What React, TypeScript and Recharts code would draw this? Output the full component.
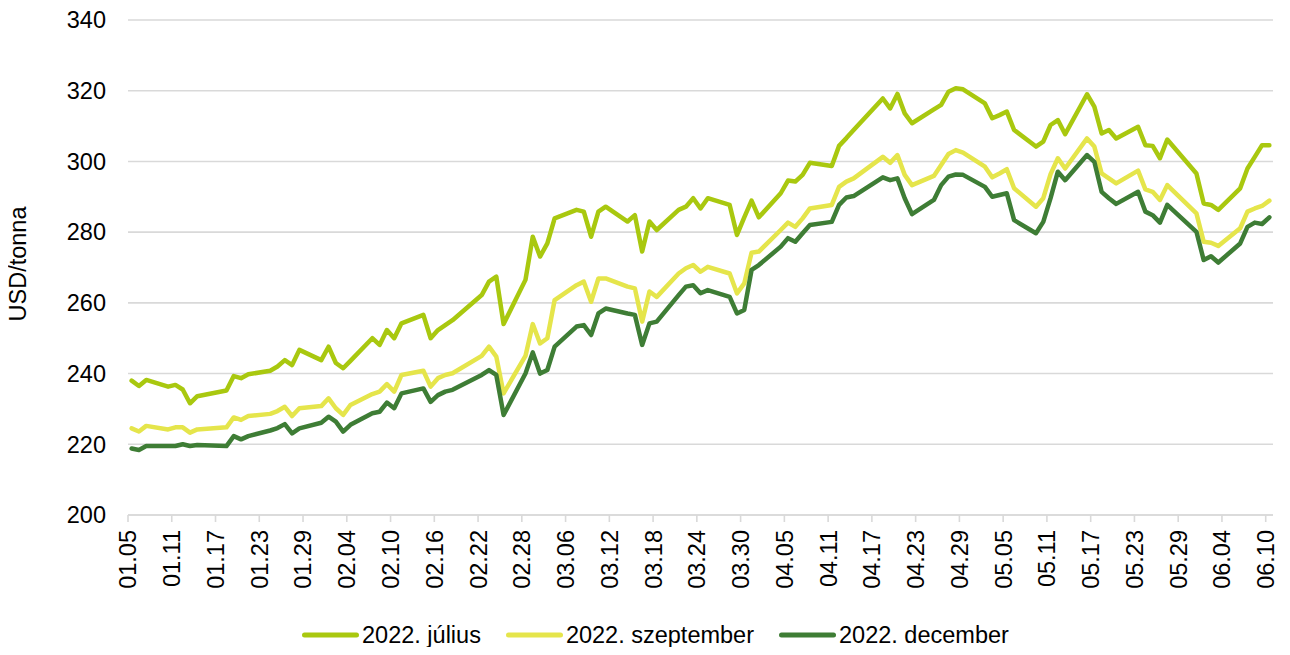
import React from 'react';
import { LineChart, Line, XAxis, YAxis, CartesianGrid, Legend } from 'recharts';

// ---- data ----
const dates = [
  '01.05','01.06','01.07','01.10','01.11','01.12','01.13','01.14','01.18','01.19','01.20','01.21',
  '01.24','01.25','01.26','01.27','01.28','01.31',
  '02.01','02.02','02.03','02.04','02.07','02.08','02.09','02.10','02.11','02.14','02.15','02.16','02.17','02.18',
  '02.22','02.23','02.24','02.25','02.28',
  '03.01','03.02','03.03','03.04','03.07','03.08','03.09','03.10','03.11','03.14','03.15','03.16','03.17','03.18',
  '03.21','03.22','03.23','03.24','03.25','03.28','03.29','03.30','03.31',
  '04.01','04.04','04.05','04.06','04.07','04.08','04.11','04.12','04.13','04.14','04.18','04.19','04.20','04.21','04.22',
  '04.25','04.26','04.27','04.28','04.29',
  '05.02','05.03','05.04','05.05','05.06','05.09','05.10','05.11','05.12','05.13','05.16','05.17','05.18','05.19','05.20',
  '05.23','05.24','05.25','05.26','05.27','05.31',
  '06.01','06.02','06.03','06.06','06.07','06.08','06.09','06.10',
];

const julius = [
  238.0, 236.5, 238.2, 236.3, 236.8, 235.5, 231.6, 233.6, 235.2, 239.3, 238.7, 239.8,
  240.8, 242.0, 243.8, 242.4, 246.7, 243.8,
  247.6, 243.0, 241.5, 243.6, 250.0, 248.1, 252.3, 250.0, 254.2, 256.6, 250.0, 252.3, 253.7, 255.1,
  262.2, 266.0, 267.4, 254.0, 266.5,
  278.7, 273.1, 276.8, 283.9, 286.3, 285.8, 278.7, 285.8, 287.2, 283.0, 284.8, 274.5, 283.0, 280.6,
  286.3, 287.2, 289.6, 286.7, 289.6, 287.7, 279.2, 284.2, 288.9,
  284.2, 291.0, 294.6, 294.3, 296.2, 299.6, 298.7, 304.4, 306.6, 308.9, 317.8, 315.0, 319.1, 313.6, 310.8,
  314.7, 316.0, 319.7, 320.7, 320.4,
  316.4, 312.2, 313.1, 314.1, 308.9, 304.2, 305.6, 310.3, 311.7, 307.7, 319.0, 315.5, 307.9, 308.9, 306.5,
  309.8, 304.6, 304.4, 300.9, 306.2, 296.6,
  288.1, 287.7, 286.3, 292.4, 298.0, 301.3, 304.6, 304.6,
];

const szeptember = [
  224.5, 223.6, 225.2, 224.2, 224.8, 224.8, 223.3, 224.2, 224.8, 227.6, 226.9, 228.0,
  228.6, 229.4, 230.6, 228.0, 230.2, 230.8,
  233.0, 230.2, 228.3, 231.1, 234.2, 234.9, 237.0, 234.9, 239.6, 240.8, 236.3, 238.7, 239.6, 240.1,
  245.0, 247.6, 244.8, 234.4, 245.0,
  254.0, 248.5, 250.0, 260.8, 265.0, 266.0, 260.3, 266.9, 266.9, 264.6, 264.1, 254.7, 263.2, 261.7,
  268.3, 269.8, 270.7, 268.8, 270.2, 268.3, 262.7, 265.5, 274.2,
  274.5, 280.6, 282.7, 281.5, 283.9, 286.7, 287.7, 292.8, 294.3, 295.2, 301.3, 299.6, 301.8, 296.2, 293.3,
  295.9, 299.0, 302.1, 303.2, 302.5,
  298.5, 295.5, 296.6, 297.8, 292.4, 287.2, 289.6, 296.4, 300.9, 298.0, 306.5, 304.2, 296.6, 295.2, 293.8,
  297.4, 292.1, 291.4, 289.1, 293.3, 285.3,
  277.3, 277.0, 276.1, 281.1, 285.8, 286.7, 287.4, 288.9,
];

const december = [
  218.8, 218.4, 219.5, 219.5, 219.5, 220.0, 219.5, 219.8, 219.5, 222.3, 221.4, 222.3,
  223.9, 224.6, 225.7, 223.1, 224.5, 226.1,
  227.8, 226.4, 223.6, 225.5, 228.8, 229.2, 231.8, 230.2, 234.4, 235.8, 232.0, 233.9, 234.9, 235.4,
  239.6, 241.0, 239.6, 228.3, 240.0,
  246.0, 240.0, 241.0, 247.6, 253.3, 253.7, 250.9, 257.0, 258.4, 257.0, 256.6, 248.1, 254.2, 254.7,
  262.2, 264.6, 265.0, 262.7, 263.6, 261.7, 257.0, 258.0, 269.3,
  270.7, 275.9, 278.3, 277.3, 279.7, 282.0, 282.9, 287.7, 289.8, 290.2, 295.5, 294.7, 295.2, 289.6, 285.1,
  289.1, 293.3, 295.7, 296.3, 296.2,
  292.8, 290.0, 290.5, 291.0, 283.4, 279.7, 282.9, 289.6, 297.1, 294.7, 301.8, 299.9, 291.4, 289.6, 288.0,
  291.4, 285.8, 284.8, 282.7, 287.7, 280.1,
  272.1, 273.2, 271.4, 276.8, 281.5, 282.7, 282.3, 284.2,
];

const tickLabels = [
  '01.05','01.11','01.17','01.23','01.29','02.04','02.10','02.16','02.22','02.28',
  '03.06','03.12','03.18','03.24','03.30','04.05','04.11','04.17','04.23','04.29',
  '05.05','05.11','05.17','05.23','05.29','06.04','06.10',
];

const yTicks = [200, 220, 240, 260, 280, 300, 320, 340];

const seriesNames = ['2022. július', '2022. szeptember', '2022. december'];
const seriesKeys = ['julius', 'szeptember', 'december'];
const seriesColors = ['#A9C80F', '#E5E54B', '#3E7D35'];

// ---- helpers ----
const FONT = '"Liberation Sans", Arial, sans-serif';
const FS = 23.5;

const dayOffset = (label: string) => {
  const [m, d] = label.split('.').map(Number);
  return Math.round((Date.UTC(2022, m - 1, d) - Date.UTC(2022, 0, 5)) / 86400000);
};

const data = dates.map((d, i) => ({
  x: dayOffset(d) + 0.5,
  date: d,
  julius: julius[i],
  szeptember: szeptember[i],
  december: december[i],
}));

const xTicks = tickLabels.map(dayOffset);
const tickLabelMap = new Map<number, string>(xTicks.map((t, i) => [t, tickLabels[i]]));

const XTick = (props: any) => {
  const { x, y, payload } = props;
  return (
    <text
      x={x}
      y={y}
      transform={`rotate(-90 ${x} ${y})`}
      textAnchor="end"
      dy="0.36em"
      fontSize={FS}
      fontFamily={FONT}
      fill="#000"
    >
      {tickLabelMap.get(payload.value)}
    </text>
  );
};

const renderLegend = () => (
  <div
    style={{
      display: 'flex',
      alignItems: 'center',
      paddingLeft: 294,
      height: 26,
      fontFamily: FONT,
      fontSize: FS,
      color: '#000',
    }}
  >
    {seriesNames.map((name, i) => (
      <div key={name} style={{ display: 'flex', alignItems: 'center', marginRight: 25 }}>
        <svg width={57} height={6} style={{ display: 'block' }}>
          <line x1={2.5} y1={3} x2={54.5} y2={3} stroke={seriesColors[i]} strokeWidth={5} strokeLinecap="round" />
        </svg>
        <span style={{ marginLeft: 3, lineHeight: '26px', whiteSpace: 'nowrap' }}>{name}</span>
      </div>
    ))}
  </div>
);

export default function App() {
  return (
    <div style={{ width: 1274, height: 639 }}>
      <LineChart
        width={1274}
        height={639}
        data={data}
        margin={{ top: 12, right: 9, left: 0, bottom: 0 }}
        style={{ overflow: 'visible' }}
      >
        <CartesianGrid horizontal vertical={false} stroke="#D9D9D9" strokeWidth={1.6} />
        <XAxis
          dataKey="x"
          type="number"
          domain={[0, 157]}
          ticks={xTicks}
          interval={0}
          height={106}
          tick={XTick}
          tickSize={7}
          tickMargin={8}
          axisLine={{ stroke: '#D9D9D9', strokeWidth: 1.6 }}
          tickLine={{ stroke: '#D9D9D9', strokeWidth: 1.6 }}
        />
        <YAxis
          type="number"
          domain={[200, 340]}
          ticks={yTicks}
          interval={0}
          width={120}
          axisLine={false}
          tickLine={false}
          tickSize={6}
          tickMargin={16}
          tick={{ fontSize: FS, fontFamily: FONT, fill: '#000' }}
          label={{
            content: () => (
              <text
                x={18}
                y={256}
                transform="rotate(-90 18 256)"
                textAnchor="middle"
                fontSize={FS}
                fontFamily={FONT}
                fill="#000"
              >
                USD/tonna
              </text>
            ),
          }}
        />
        <Legend
          verticalAlign="bottom"
          content={renderLegend}
          wrapperStyle={{ left: 0, width: 1274, top: 614, height: 26 }}
        />
        {seriesKeys.map((k, i) => (
          <Line
            key={k}
            type="linear"
            dataKey={k}
            name={seriesNames[i]}
            stroke={seriesColors[i]}
            strokeWidth={4.5}
            strokeLinejoin="round"
            strokeLinecap="round"
            dot={false}
            activeDot={false}
            isAnimationActive={false}
          />
        ))}
      </LineChart>
    </div>
  );
}
